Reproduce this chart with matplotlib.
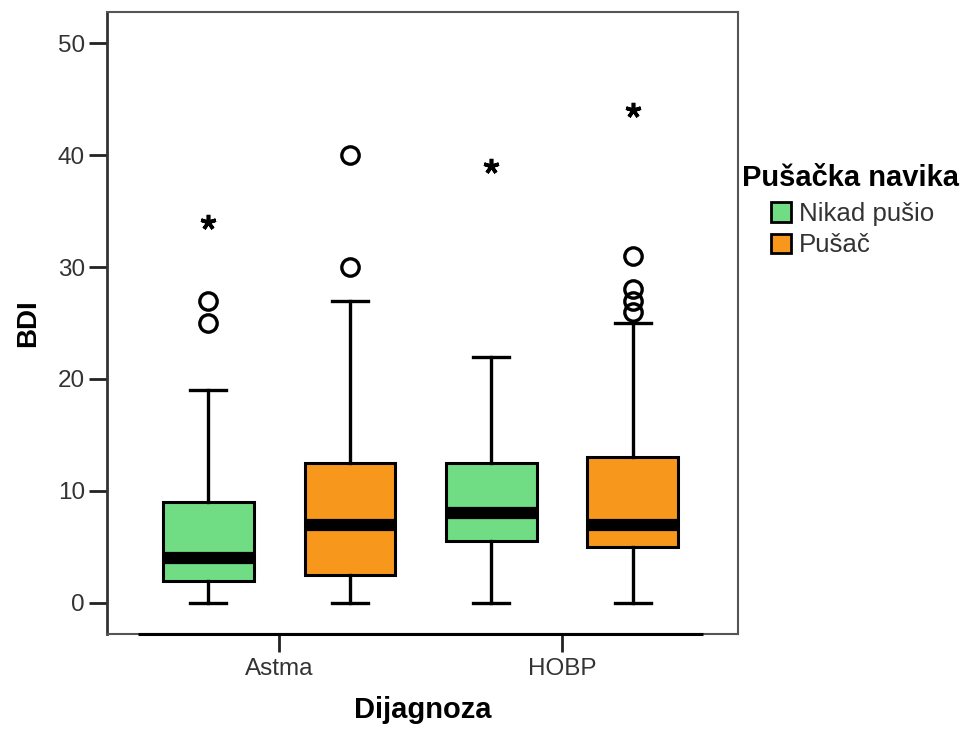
import matplotlib
matplotlib.use("Agg")
import matplotlib.pyplot as plt
from matplotlib.patches import Patch

plt.rcParams['font.family'] = ['Liberation Sans', 'DejaVu Sans']

# Categories and groups
diagnoses = ['Astma', 'HOBP']
groups = ['Nikad pušio', 'Pušač']
colors = ['#70DC84', '#F7981D']

# Box statistics per group (one value per diagnosis)
q1_never = [2.0, 5.5]
med_never = [4.0, 8.0]
q3_never = [9.0, 12.5]
lo_never = [0.0, 0.0]
hi_never = [19.0, 22.0]

q1_smoker = [2.5, 5.0]
med_smoker = [7.0, 7.0]
q3_smoker = [12.5, 13.0]
lo_smoker = [0.0, 0.0]
hi_smoker = [27.0, 25.0]

# Outliers (circles) and extreme values (stars)
out_never = [[25, 27], []]
ext_never = [[34], [39]]
out_smoker = [[30, 40], [26, 27, 28, 31]]
ext_smoker = [[], [44]]

yticks = [0, 10, 20, 30, 40, 50]

fig = plt.figure(figsize=(9.6, 7.29), dpi=100)
ax = fig.add_axes([107/960, 1 - 634/729, (738-107)/960, (634-12)/729])

offset = 0.25
width = 0.32
series = [
    (q1_never, med_never, q3_never, lo_never, hi_never, out_never, ext_never),
    (q1_smoker, med_smoker, q3_smoker, lo_smoker, hi_smoker, out_smoker, ext_smoker),
]

for gi, (q1, med, q3, lo, hi, outs, exts) in enumerate(series):
    stats = []
    positions = []
    for di in range(len(diagnoses)):
        stats.append(dict(q1=q1[di], med=med[di], q3=q3[di],
                          whislo=lo[di], whishi=hi[di], fliers=[]))
        positions.append(di + (gi - 0.5) * 2 * offset)
    ax.bxp(stats, positions=positions, widths=width, patch_artist=True,
           showfliers=False,
           boxprops=dict(facecolor=colors[gi], edgecolor='black', linewidth=2.2),
           medianprops=dict(color='black', linewidth=8.8, solid_capstyle='butt'),
           whiskerprops=dict(color='black', linewidth=2.4),
           capprops=dict(color='black', linewidth=2.4),
           capwidths=0.127, zorder=3)
    for di, pos in enumerate(positions):
        if outs[di]:
            ax.plot([pos] * len(outs[di]), outs[di], linestyle='none', marker='o',
                    markersize=12.5, markerfacecolor='none', markeredgecolor='black',
                    markeredgewidth=2.4, zorder=4)
        if exts[di]:
            ax.plot([pos] * len(exts[di]), exts[di], linestyle='none',
                    marker=(5, 2, 0), markersize=11, markeredgecolor='black',
                    markeredgewidth=2.6, zorder=4)

ax.set_xlim(-0.608, 1.622)
ax.set_ylim(-2.77, 52.77)
ax.set_xticks(range(len(diagnoses)))
ax.set_xticklabels(diagnoses)
ax.set_yticks(yticks)
ax.set_yticklabels([str(t) for t in yticks])
ax.tick_params(axis='both', direction='out', length=13, width=2, color='#222222',
               labelsize=17.5, labelcolor='#333333', pad=3)
ax.tick_params(axis='x', pad=4)

for name, sp in ax.spines.items():
    sp.set_color('#555555')
    sp.set_linewidth(1.5)
ax.spines['left'].set_color('#333333')
ax.spines['left'].set_linewidth(2)
# darker axis line beneath the categories
ax.plot([-0.5, 1.5], [-2.77, -2.77], color='black', linewidth=2.2,
        clip_on=False, zorder=5, solid_capstyle='butt')

ax.set_xlabel('Dijagnoza', fontsize=21, fontweight='bold', labelpad=12)
ax.set_ylabel('BDI', fontsize=20, fontweight='bold', labelpad=12)

# Legend
fig.text(742/960, 1 - 178/729, 'Pušačka navika', fontsize=21, fontweight='bold',
         ha='left', va='center')
handles = [Patch(facecolor=c, edgecolor='black', linewidth=2) for c in colors]
leg = fig.legend(handles, groups, loc='upper left',
                 bbox_to_anchor=(750/960, 1 - 181/729), frameon=False,
                 fontsize=18.6, handlelength=0.8, handleheight=0.8,
                 handletextpad=0.3, labelspacing=0.3, borderpad=0.3)
for t in leg.get_texts():
    t.set_color('#333333')

fig.savefig('out.png', dpi=100)
